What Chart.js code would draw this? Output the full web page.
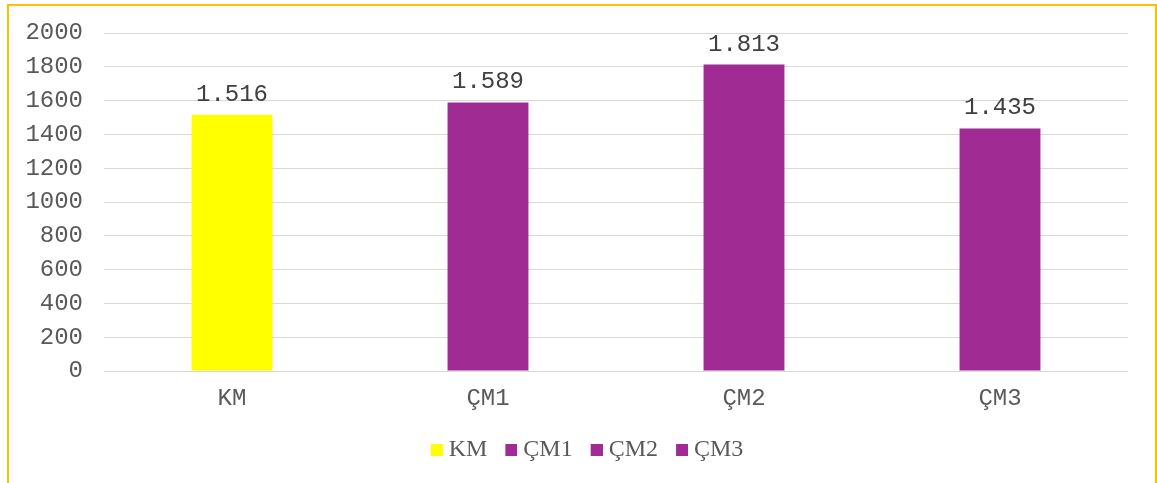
<!DOCTYPE html>
<html>
<head>
<meta charset="utf-8">
<script src="https://cdn.jsdelivr.net/npm/chart.js@4.4.1/dist/chart.umd.min.js"></script>
<style>
  html, body { margin: 0; padding: 0; background: #fff; overflow: hidden; }
  #wrap { position: relative; width: 1157px; height: 483px; }
  #frame { position: absolute; left: 7px; top: 4px; width: 1150px; height: 600px; box-sizing: border-box; border: 2px solid #FFC000; pointer-events: none; }
  canvas { position: absolute; left: 0; top: 0; }
</style>
</head>
<body>
<div id="wrap">
  <canvas id="myChart" width="1157" height="483"></canvas>
  <div id="frame"></div>
</div>
<script>
const categories = ["KM", "ÇM1", "ÇM2", "ÇM3"];
const values = [1516, 1589, 1813, 1435];
const barColors = ["#FFFF00", "#A02B93", "#A02B93", "#A02B93"];
const yTicks = [0, 200, 400, 600, 800, 1000, 1200, 1400, 1600, 1800, 2000];

const monoFont = "'Courier New', 'Liberation Mono', monospace";
const serifFont = "'Times New Roman', 'Liberation Serif', serif";

// "1516" -> "1.516"
function formatTr(v) {
  const s = String(Math.round(v));
  return s.replace(/\B(?=(\d{3})+(?!\d))/g, ".");
}

// legend square drawn in the right half so the text sits closer to it
function legendSwatch(color) {
  const c = document.createElement("canvas");
  c.width = 24;
  c.height = 12;
  const g = c.getContext("2d");
  g.fillStyle = color;
  g.fillRect(12, 0, 12, 12);
  return c;
}
const swatches = barColors.map(legendSwatch);

// value labels above bars
const valueLabels = {
  id: "valueLabels",
  afterDatasetsDraw(chart) {
    const ctx = chart.ctx;
    ctx.save();
    ctx.font = "24px " + monoFont;
    ctx.fillStyle = "#404040";
    ctx.textAlign = "center";
    ctx.textBaseline = "alphabetic";
    chart.data.datasets.forEach((ds, i) => {
      chart.getDatasetMeta(i).data.forEach((bar, j) => {
        const v = ds.data[j];
        if (v == null) return;
        ctx.fillText(formatTr(v), bar.x, bar.y - 14);
      });
    });
    ctx.restore();
  }
};

// nudge the legend a bit to the right, like the original
const legendShift = {
  id: "legendShift",
  afterLayout(chart) {
    if (chart.legend) chart.legend.left += 40;
  }
};

const datasets = categories.map((cat, i) => ({
  label: cat,
  data: categories.map((_, j) => (j === i ? values[i] : null)),
  backgroundColor: barColors[i],
  borderWidth: 0,
  grouped: false,
  categoryPercentage: 1,
  barPercentage: 0.316
}));

const config = {
  type: "bar",
  data: { labels: categories, datasets },
  options: {
    responsive: false,
    animation: false,
    layout: { padding: { top: 33, bottom: 11, left: 0, right: 29 } },
    plugins: {
      tooltip: { enabled: false },
      legend: {
        position: "bottom",
        labels: {
          usePointStyle: true,
          boxWidth: 12,
          boxHeight: 12,
          padding: 12,
          color: "#595959",
          font: { family: serifFont, size: 24 },
          generateLabels: chart => chart.data.datasets.map((ds, i) => ({
            text: ds.label,
            fillStyle: ds.backgroundColor,
            strokeStyle: ds.backgroundColor,
            lineWidth: 0,
            pointStyle: swatches[i],
            fontColor: "#595959",
            hidden: false,
            datasetIndex: i
          }))
        }
      }
    },
    scales: {
      x: {
        grid: { display: false },
        border: { display: false },
        ticks: {
          color: "#595959",
          padding: 5,
          font: { family: monoFont, size: 24 }
        },
        afterFit: scale => { scale.height = 55; }
      },
      y: {
        min: yTicks[0],
        max: yTicks[yTicks.length - 1],
        grid: { color: "#d9d9d9", lineWidth: 1, drawTicks: false },
        border: { display: false },
        ticks: {
          stepSize: yTicks[1] - yTicks[0],
          color: "#595959",
          padding: 21,
          font: { family: monoFont, size: 24 },
          callback: v => String(v)
        },
        afterFit: scale => {
          scale.width = 104;
          // let the layout padding alone decide where the plot starts
          scale.paddingTop = 0;
          scale.paddingBottom = 0;
        }
      }
    }
  },
  plugins: [valueLabels, legendShift]
};

const myChart = new Chart(document.getElementById("myChart"), config);
</script>
</body>
</html>
